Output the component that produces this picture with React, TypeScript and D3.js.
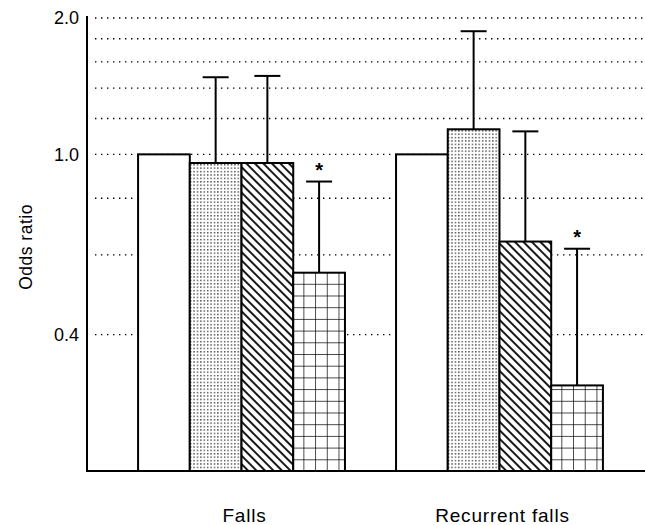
import React from "react";
import * as d3 from "d3";

const groups = ["Falls", "Recurrent falls"];
const series = ["s1", "s2", "s3", "s4"];
const oddsFalls = [1.0, 0.957, 0.957, 0.548];
const upperFalls = [null, 1.48, 1.49, 0.871];
const oddsRecurrent = [1.0, 1.136, 0.642, 0.309];
const upperRecurrent = [null, 1.87, 1.124, 0.619];
const significant = [false, false, false, true];
const gridValues = [2.0, 1.8, 1.6, 1.4, 1.2, 1.0, 0.8, 0.6, 0.4];
const tickLabels = [2.0, 1.0, 0.4];

const W = 645;
const H = 525;
const left = 87;
const top = 16;
const bottom = 471;

export default function App() {
  const y = d3.scaleLog().domain([0.2, 2.0]).range([bottom, 18]);
  const x0 = d3.scaleBand().domain(groups).range([left, 654]).paddingInner(0.198).paddingOuter(0.198);
  const x1 = d3.scaleBand().domain(series).range([0, x0.bandwidth()]);
  const values = [oddsFalls, oddsRecurrent];
  const uppers = [upperFalls, upperRecurrent];
  const font = "'Liberation Sans', Arial, Helvetica, sans-serif";
  const fills = ["#fff", "url(#dots)", "url(#diag)", "url(#grid)"];

  return (
    <svg width={W} height={H} style={{ position: "absolute", left: 0, top: 0, background: "#fff" }}>
      <defs>
        <pattern id="dots" patternUnits="userSpaceOnUse" width={3.4} height={3.4}>
          <rect width={3.4} height={3.4} fill="#fff" />
          <rect x={1} y={1} width={1.2} height={1.2} fill="#000" />
        </pattern>
        <pattern id="diag" patternUnits="userSpaceOnUse" width={6} height={6} patternTransform="rotate(-45)">
          <rect width={6} height={6} fill="#fff" />
          <line x1={3} y1={0} x2={3} y2={6} stroke="#000" strokeWidth={1.8} />
        </pattern>
        <pattern id="grid" patternUnits="userSpaceOnUse" width={11.7} height={11.7} x={294} y={bottom}>
          <rect width={11.7} height={11.7} fill="#fff" />
          <line x1={0} y1={0} x2={11.7} y2={0} stroke="#000" strokeWidth={1.4} />
          <line x1={0} y1={0} x2={0} y2={11.7} stroke="#000" strokeWidth={1.4} />
        </pattern>
      </defs>

      {gridValues.map((v) => (
        <line key={v} x1={left + 8} x2={W} y1={y(v)} y2={y(v)} stroke="#000" strokeWidth={1.4} strokeDasharray="1.4 4.6" />
      ))}

      {groups.map((g, gi) => (
        <g key={g} transform={`translate(${x0(g)},0)`}>
          {series.map((s, si) => {
            const v = values[gi][si];
            const u = uppers[gi][si];
            const bx = x1(s)!;
            const bw = x1.bandwidth();
            const cx = bx + bw / 2;
            return (
              <g key={s}>
                <rect x={bx} y={y(v)} width={bw} height={bottom - y(v)} fill={fills[si]} stroke="#000" strokeWidth={2} />
                {u !== null && (
                  <g stroke="#000" strokeWidth={2}>
                    <line x1={cx} x2={cx} y1={y(v)} y2={y(u)} />
                    <line x1={cx - 13} x2={cx + 13} y1={y(u)} y2={y(u)} />
                  </g>
                )}
                {significant[si] && u !== null && (
                  <text x={cx} y={y(u) - 5} textAnchor="middle" fontFamily={font} fontSize={20} fontWeight="bold">*</text>
                )}
              </g>
            );
          })}
        </g>
      ))}

      <line x1={left} x2={left} y1={top} y2={bottom + 1} stroke="#000" strokeWidth={2} />
      <line x1={left} x2={W} y1={bottom} y2={bottom} stroke="#000" strokeWidth={2.2} />

      {tickLabels.map((t) => (
        <text key={t} x={79} y={y(t)} dy="0.36em" textAnchor="end" fontFamily={font} fontSize={18}>
          {t.toFixed(1)}
        </text>
      ))}

      <text transform={`translate(32,${247}) rotate(-90)`} textAnchor="middle" fontFamily={font} fontSize={17.5} letterSpacing={0.5}>
        Odds ratio
      </text>

      {groups.map((g) => (
        <text key={g} x={x0(g)! + x0.bandwidth() / 2 + 3} y={522} textAnchor="middle" fontFamily={font} fontSize={19} letterSpacing={0.8}>
          {g}
        </text>
      ))}
    </svg>
  );
}
